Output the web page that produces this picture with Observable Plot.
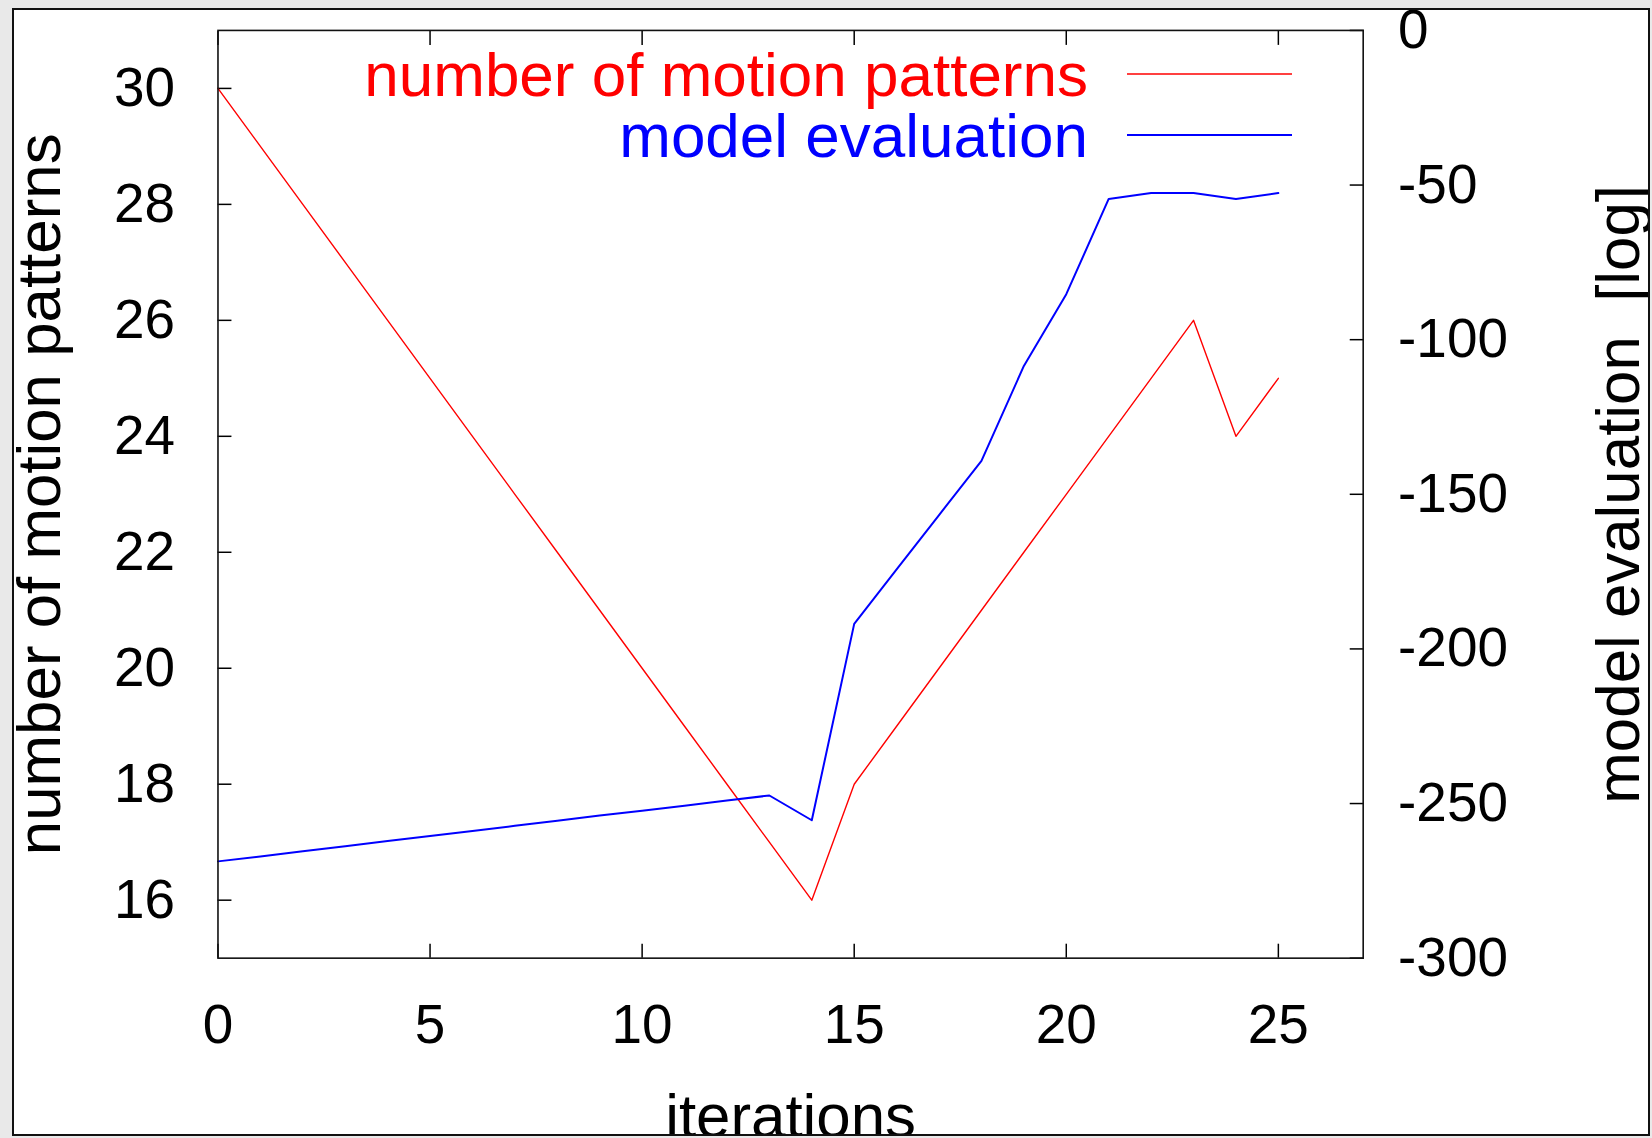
<!DOCTYPE html>
<html>
<head>
<meta charset="utf-8">
<script src="https://cdn.jsdelivr.net/npm/d3@7"></script>
<script src="https://cdn.jsdelivr.net/npm/@observablehq/plot@0.6"></script>
<style>
  html, body { margin: 0; padding: 0; background: #e9e9e9; width: 1652px; height: 1138px; overflow: hidden; }
  #box { position: absolute; left: 12px; top: 8px; width: 1634px; height: 1124px; background: #fff; border: 2px solid #111; overflow: hidden; }
  #chart { position: absolute; left: -14px; top: -10px; }
  #legend { position: absolute; left: -14px; top: -10px; }
  svg text { font-family: "Liberation Sans", Arial, sans-serif; }
</style>
</head>
<body>
<div id="box">
  <div id="chart"></div>
  <svg id="legend" width="1652" height="200"></svg>
</div>
<script>
// ---- data ----
const iterations = [0,1,2,3,4,5,6,7,8,9,10,11,12,13,14,15,16,17,18,19,20,21,22,23,24,25];
const motionPatterns = [30,29,28,27,26,25,24,23,22,21,20,19,18,17,16,18,19,20,21,22,23,24,25,26,24,25];
const modelEvaluation = [-268.7,-267.1,-265.4,-263.8,-262.1,-260.5,-258.9,-257.2,-255.6,-253.9,-252.3,-250.7,-249.0,-247.4,-255.4,-191.9,-174.3,-156.7,-139.2,-108.5,-85.3,-54.5,-52.6,-52.6,-54.5,-52.6];
const xTicks = [0,5,10,15,20,25];
const leftTicks = [16,18,20,22,24,26,28,30];
const rightTicks = [0,-50,-100,-150,-200,-250,-300];
const xDomain = [0,27];
const leftDomain = [15,31];
const rightDomain = [-300,0];
const seriesNames = ["number of motion patterns", "model evaluation"];
const seriesColors = ["#ff0000", "#0000ff"];
const xLabel = "iterations";
const yLabel = "number of motion patterns";
const y2Label = "model evaluation  [log]";

// map right-axis values onto the shared y scale
const toLeft = v => leftDomain[0] + (v - rightDomain[0]) / (rightDomain[1] - rightDomain[0]) * (leftDomain[1] - leftDomain[0]);
const fromLeft = u => rightDomain[0] + (u - leftDomain[0]) / (leftDomain[1] - leftDomain[0]) * (rightDomain[1] - rightDomain[0]);

const rows = iterations.map((it, i) => ({it, mp: motionPatterns[i], me: modelEvaluation[i]}));

const W = 1652, H = 1138;
const tickFont = 55, labelFont = 62;
const blank = () => "";

const chart = Plot.plot({
  width: W,
  height: H,
  marginLeft: 218,
  marginRight: W - 1366,
  marginTop: 30,
  marginBottom: H - 960,
  style: {background: "transparent", fontFamily: "Liberation Sans, Arial, sans-serif", overflow: "visible", color: "#000"},
  x: {domain: xDomain},
  y: {domain: leftDomain},
  marks: [
    // tick marks (inward)
    Plot.axisX({anchor: "bottom", ticks: xTicks, tickSize: -14, tickFormat: blank, label: null, strokeWidth: 1.5}),
    Plot.axisX({anchor: "top", ticks: xTicks, tickSize: -14, tickFormat: blank, label: null, strokeWidth: 1.5}),
    Plot.axisY({anchor: "left", ticks: leftTicks, tickSize: -14, tickFormat: blank, label: null, strokeWidth: 1.5}),
    Plot.axisY({anchor: "right", ticks: rightTicks.map(toLeft), tickSize: -14, tickFormat: blank, label: null, strokeWidth: 1.5}),
    // tick labels
    Plot.axisX({anchor: "bottom", ticks: xTicks, tickSize: 0, tickPadding: 46, fontSize: tickFont, label: null, tickFormat: d => String(d)}),
    Plot.axisY({anchor: "left", ticks: leftTicks, tickSize: 0, tickPadding: 43, fontSize: tickFont, label: null, tickFormat: d => String(d)}),
    Plot.axisY({anchor: "right", ticks: rightTicks.map(toLeft), tickSize: 0, tickPadding: 35, fontSize: tickFont, label: null,
      tickFormat: d => String(Math.round(fromLeft(d)))}),
    // axis titles
    Plot.text([xLabel], {frameAnchor: "bottom", dy: 179, fontSize: labelFont, text: d => d}),
    Plot.text([yLabel], {frameAnchor: "left", textAnchor: "middle", dx: -178, rotate: -90, fontSize: labelFont, text: d => d}),
    Plot.text([y2Label], {frameAnchor: "right", textAnchor: "middle", dx: 257, rotate: -90, fontSize: labelFont, text: d => d}),
    // data
    Plot.line(rows, {x: "it", y: "mp", stroke: seriesColors[0], strokeWidth: 1.4}),
    Plot.line(rows, {x: "it", y: d => toLeft(d.me), stroke: seriesColors[1], strokeWidth: 2}),
    Plot.frame({stroke: "#111", strokeWidth: 1.6})
  ]
});
document.getElementById("chart").appendChild(chart);
// preserve double space in y2 label
chart.querySelectorAll("text").forEach(t => { t.setAttribute("xml:space", "preserve"); t.style.whiteSpace = "pre"; });

// legend
const lg = d3.select("#legend");
const legendY = [74, 135];
seriesNames.forEach((name, i) => {
  lg.append("text")
    .attr("x", 1088).attr("y", legendY[i]).attr("dy", "0.36em")
    .attr("text-anchor", "end")
    .attr("font-size", labelFont)
    .attr("fill", seriesColors[i])
    .text(name);
  lg.append("line")
    .attr("x1", 1127).attr("x2", 1292)
    .attr("y1", legendY[i]).attr("y2", legendY[i])
    .attr("stroke", seriesColors[i]).attr("stroke-width", i === 0 ? 1.5 : 2);
});
</script>
</body>
</html>
